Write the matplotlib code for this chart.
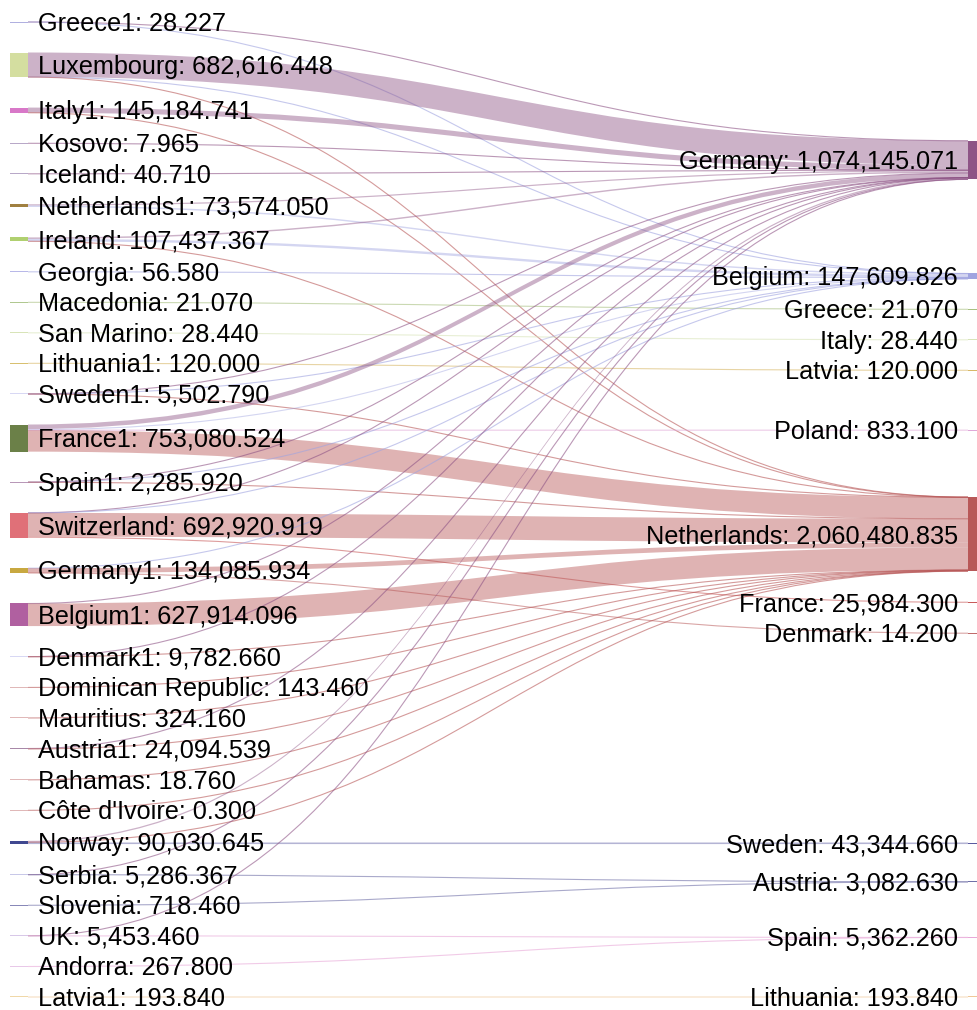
import matplotlib
matplotlib.use("Agg")
import matplotlib.pyplot as plt
from matplotlib.path import Path
from matplotlib.patches import PathPatch, Rectangle
from matplotlib.colors import to_rgba

# ---------------- data ----------------
left_nodes = ["Greece1", "Luxembourg", "Italy1", "Kosovo", "Iceland", "Netherlands1",
              "Ireland", "Georgia", "Macedonia", "San Marino", "Lithuania1", "Sweden1",
              "France1", "Spain1", "Switzerland", "Germany1", "Belgium1", "Denmark1",
              "Dominican Republic", "Mauritius", "Austria1", "Bahamas", "Côte d'Ivoire",
              "Norway", "Serbia", "Slovenia", "UK", "Andorra", "Latvia1"]
right_nodes = ["Germany", "Belgium", "Greece", "Italy", "Latvia", "Poland", "Netherlands",
               "France", "Denmark", "Sweden", "Austria", "Spain", "Lithuania"]

link_sources = ["Greece1", "Greece1", "Luxembourg", "Luxembourg", "Luxembourg",
                "Italy1", "Italy1", "Kosovo", "Iceland", "Netherlands1", "Netherlands1",
                "Ireland", "Ireland", "Ireland", "Georgia", "Macedonia", "San Marino",
                "Lithuania1", "Sweden1", "Sweden1", "Sweden1",
                "France1", "France1", "France1", "France1",
                "Spain1", "Spain1", "Spain1",
                "Switzerland", "Switzerland", "Switzerland", "Switzerland",
                "Germany1", "Germany1", "Germany1", "Belgium1", "Belgium1",
                "Denmark1", "Denmark1", "Dominican Republic", "Mauritius",
                "Austria1", "Austria1", "Bahamas", "Côte d'Ivoire",
                "Norway", "Norway", "Norway", "Serbia", "Serbia", "Slovenia",
                "UK", "UK", "Andorra", "Latvia1"]
link_targets = ["Germany", "Belgium", "Germany", "Belgium", "Netherlands",
                "Germany", "Netherlands", "Germany", "Germany", "Germany", "Belgium",
                "Germany", "Belgium", "Netherlands", "Belgium", "Greece", "Italy",
                "Latvia", "Germany", "Belgium", "Netherlands",
                "Germany", "Belgium", "Poland", "Netherlands",
                "Germany", "Belgium", "Netherlands",
                "Germany", "Belgium", "Netherlands", "France",
                "Belgium", "Netherlands", "Denmark", "Germany", "Netherlands",
                "Germany", "Netherlands", "Netherlands", "Netherlands",
                "Germany", "Netherlands", "Netherlands", "Netherlands",
                "Germany", "Netherlands", "Sweden", "Germany", "Austria", "Austria",
                "Germany", "Spain", "Spain", "Lithuania"]
link_values = [14.100, 14.127, 677000.000, 4616.448, 1000.000,
               142000.000, 3184.741, 7.965, 40.710, 33574.050, 40000.000,
               40000.000, 66000.000, 1437.367, 56.580, 21.070, 28.440,
               120.000, 4000.000, 1000.000, 502.790,
               125041.064, 31422.671, 833.100, 595783.689,
               1500.000, 500.000, 285.920,
               5000.000, 2000.000, 659936.619, 25984.300,
               2000.000, 132071.734, 14.200, 2000.000, 625914.096,
               1000.000, 8782.660, 143.460, 324.160,
               3000.000, 21094.539, 18.760, 0.300,
               36685.985, 10000.000, 43344.660, 2922.197, 2364.170, 718.460,
               359.000, 5094.460, 267.800, 193.840]

# ---------------- style ----------------
left_colors = ["#b0b0e0", "#d4dea0", "#d878c8", "#b8a8c8", "#b8a8c8", "#a08040",
               "#b0d070", "#b8b8e8", "#b0c890", "#d8e4b8", "#d8c070", "#d8d8f4",
               "#6b8048", "#b898b8", "#e07078", "#c8a840", "#b060a0", "#d8d8f4",
               "#e0b8b8", "#e0b8b8", "#a888a8", "#e0b8b8", "#e0b8b8",
               "#404890", "#c8c8e8", "#8888b8", "#d8c8e8", "#e8c8e8", "#f0d8a8"]
right_colors = ["#8e5486", "#a0a4e0", "#a8c080", "#d8e4b8", "#d8b868", "#e0a8d8",
                "#b85858", "#c85a5a", "#c06a6a", "#5a5aa0", "#7070a8", "#e8a8d8",
                "#f0c898"]

W, H = 977, 1010
XL0, XL1 = 10, 28
XR0, XR1 = 968, 986
PAD = 30.5
YTOP, YBOT = 22.0, 997.0
FS_PX = 25.3

# ---------------- layout ----------------
lv = {n: 0.0 for n in left_nodes}
rv = {n: 0.0 for n in right_nodes}
for s, t, v in zip(link_sources, link_targets, link_values):
    lv[s] += v
    rv[t] += v
total = sum(lv.values())
scale = (YBOT - YTOP - (len(left_nodes) - 1) * PAD) / total

ltop = {}
y = YTOP
for n in left_nodes:
    ltop[n] = y
    y += lv[n] * scale + PAD
lcen = {n: ltop[n] + lv[n] * scale / 2 for n in left_nodes}
rh = {n: rv[n] * scale for n in right_nodes}


def resolve(tops):
    order = right_nodes  # keep the given top-to-bottom order
    yy = YTOP
    for n in order:
        if tops[n] < yy:
            tops[n] = yy
        yy = tops[n] + rh[n] + PAD
    if tops[order[-1]] + rh[order[-1]] > YBOT:
        tops[order[-1]] = YBOT - rh[order[-1]]
        for i in range(len(order) - 2, -1, -1):
            a, b = order[i], order[i + 1]
            if tops[a] + rh[a] + PAD > tops[b]:
                tops[a] = tops[b] - PAD - rh[a]
    return tops


links = list(zip(link_sources, link_targets, link_values))
rank = {n: k for k, n in enumerate(right_nodes)}
rtop = {}
for n in right_nodes:
    num = sum(v * lcen[s] for s, t, v in links if t == n)
    rtop[n] = num / rv[n] - rh[n] / 2
rtop = resolve(rtop)

for _ in range(3):
    spos = {}
    for n in left_nodes:
        out = sorted([i for i, l in enumerate(links) if l[0] == n], key=lambda i: rank[links[i][1]])
        yy = ltop[n]
        for i in out:
            w = links[i][2] * scale
            spos[i] = yy + w / 2
            yy += w
    new = {}
    for n in right_nodes:
        num = sum(links[i][2] * spos[i] for i in range(len(links)) if links[i][1] == n)
        new[n] = num / rv[n] - rh[n] / 2
    rtop = resolve(new)

rcen = {n: rtop[n] + rh[n] / 2 for n in right_nodes}

s_off, t_off = {}, {}
for n in left_nodes:
    out = sorted([i for i, l in enumerate(links) if l[0] == n], key=lambda i: rank[links[i][1]])
    yy = ltop[n]
    for i in out:
        s_off[i] = yy
        yy += links[i][2] * scale
for n in right_nodes:
    inc = sorted([i for i, l in enumerate(links) if l[1] == n], key=lambda i: lcen[links[i][0]])
    yy = rtop[n]
    for i in inc:
        t_off[i] = yy
        yy += links[i][2] * scale

# ---------------- draw ----------------
plt.rcParams["font.family"] = ["Liberation Sans", "DejaVu Sans"]
fig = plt.figure(figsize=(W / 100, H / 100), dpi=100)
ax = fig.add_axes([0, 0, 1, 1])
ax.set_xlim(0, W)
ax.set_ylim(H, 0)
ax.axis("off")

rcol = dict(zip(right_nodes, right_colors))
lcol = dict(zip(left_nodes, left_colors))
x0, x1 = XL1, XR0
xm = (x0 + x1) / 2

for i, (s, t, v) in enumerate(links):
    w = v * scale
    sy0, ty0 = s_off[i], t_off[i]
    col = rcol[t]
    if w < 1.0:
        sc, tc = sy0 + w / 2, ty0 + w / 2
        p = Path([(x0, sc), (xm, sc), (xm, tc), (x1, tc)],
                 [Path.MOVETO, Path.CURVE4, Path.CURVE4, Path.CURVE4])
        ax.add_patch(PathPatch(p, facecolor="none", edgecolor=to_rgba(col, 0.6), lw=0.8))
    else:
        sy1, ty1 = sy0 + w, ty0 + w
        verts = [(x0, sy0), (xm, sy0), (xm, ty0), (x1, ty0),
                 (x1, ty1), (xm, ty1), (xm, sy1), (x0, sy1), (x0, sy0)]
        codes = [Path.MOVETO, Path.CURVE4, Path.CURVE4, Path.CURVE4,
                 Path.LINETO, Path.CURVE4, Path.CURVE4, Path.CURVE4, Path.CLOSEPOLY]
        ax.add_patch(PathPatch(Path(verts, codes), facecolor=to_rgba(col, 0.45),
                               edgecolor="none", lw=0))

for n in left_nodes:
    h = max(lv[n] * scale, 1.0)
    yc = lcen[n]
    ax.add_patch(Rectangle((XL0, yc - h / 2), XL1 - XL0, h, facecolor=lcol[n], edgecolor="none"))
    ax.text(XL1 + 10, yc + 0.35 * FS_PX, f"{n}: {lv[n]:,.3f}", ha="left", va="baseline",
            fontsize=FS_PX * 0.72, color="black")
for n in right_nodes:
    h = max(rh[n], 1.0)
    yc = rcen[n]
    ax.add_patch(Rectangle((XR0, yc - h / 2), XR1 - XR0, h, facecolor=rcol[n], edgecolor="none"))
    ax.text(XR0 - 10, yc + 0.35 * FS_PX, f"{n}: {rv[n]:,.3f}", ha="right", va="baseline",
            fontsize=FS_PX * 0.72, color="black")

fig.savefig("out.png", dpi=100)
